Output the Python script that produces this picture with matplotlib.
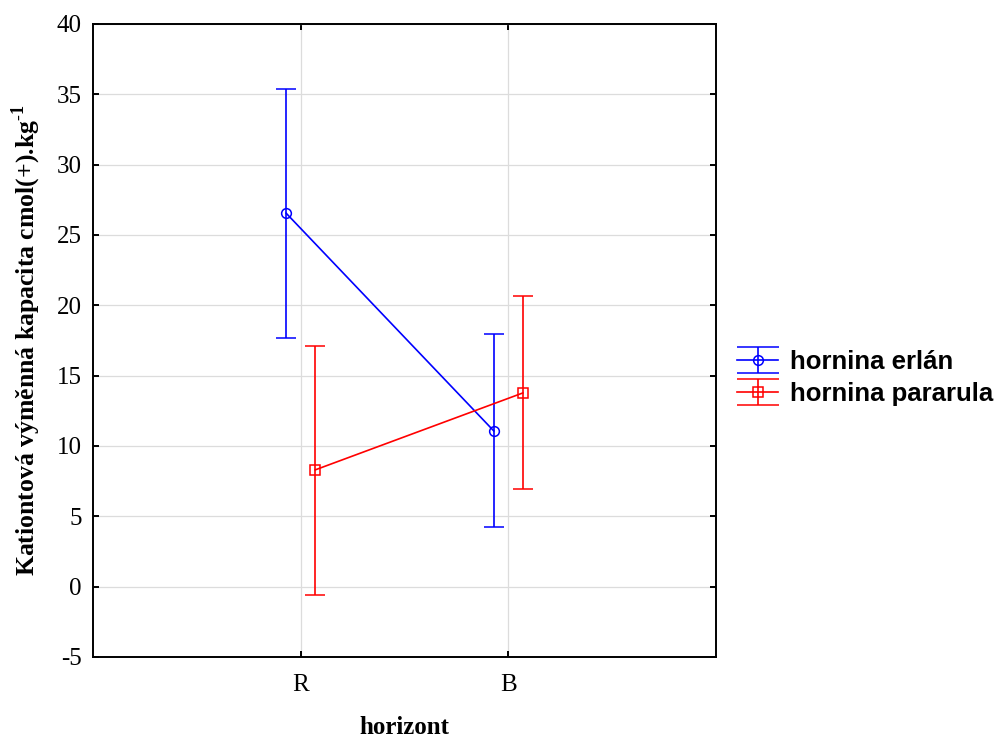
import numpy as np
import matplotlib
matplotlib.use('Agg')
import matplotlib.pyplot as plt
from matplotlib.lines import Line2D

plt.rcParams['axes.unicode_minus'] = False
plt.rcParams['mathtext.fontset'] = 'custom'
plt.rcParams['mathtext.rm'] = 'Liberation Serif'
plt.rcParams['mathtext.bf'] = 'Liberation Serif:bold'

categories = ['R', 'B']
series_names = ['hornina erlán', 'hornina pararula']
erlan_mean = [26.55, 11.07]
erlan_low = [17.68, 4.25]
erlan_high = [35.38, 17.97]
pararula_mean = [8.30, 13.77]
pararula_low = [-0.58, 6.95]
pararula_high = [17.12, 20.67]

fig = plt.figure(figsize=(9.99, 7.38), dpi=100)
ax = fig.add_axes([0.0931, 0.1098, 0.6236, 0.8577])

x = np.arange(len(categories))
series = [
    (erlan_mean, erlan_low, erlan_high, '#0000ff', 'o', -0.07),
    (pararula_mean, pararula_low, pararula_high, '#ff0000', 's', 0.07),
]
for name, (mean, low, high, color, marker, shift) in zip(series_names, series):
    mean = np.array(mean)
    yerr = [mean - np.array(low), np.array(high) - mean]
    ax.errorbar(x + shift, mean, yerr=yerr, color=color, marker=marker,
                markersize=7 if marker == 'o' else 6.5, markerfacecolor='none',
                markeredgewidth=1.1, linewidth=1.2, capsize=7.5, capthick=1.2,
                label=name)

ax.set_xlim(-1, 2)
ax.set_ylim(-5, 40)
ax.set_xticks(x)
ax.set_xticklabels(categories)
ax.set_yticks(np.arange(-5, 41, 5))
ax.grid(True, color='#dcdcdc', linewidth=0.9)
ax.set_axisbelow(True)
for sp in ax.spines.values():
    sp.set_linewidth(1.4)
ax.tick_params(direction='in', length=4, width=1.4, top=True, right=True,
               labelsize=18)
ax.tick_params(axis='y', pad=8)
ax.tick_params(axis='x', pad=12)
for lab in ax.get_xticklabels() + ax.get_yticklabels():
    lab.set_family('Liberation Serif')

ax.set_xlabel('horizont', family='Liberation Serif', fontweight='bold',
              fontsize=18)
ax.xaxis.set_label_coords(0.5, -0.093)
ax.set_ylabel(r'Kationtová výměnná kapacita cmol(+).kg$^{\mathbf{\text{-}1}}$',
              family='Liberation Serif', fontweight='bold', fontsize=18.5)
ax.yaxis.set_label_coords(-0.08, 0.5)

leg = ax.legend(loc='center left', bbox_to_anchor=(0.725, 0.488),
                bbox_transform=fig.transFigure, frameon=False, borderpad=0,
                prop={'family': 'Liberation Sans', 'weight': 'bold', 'size': 18.5},
                handlelength=1.6, handletextpad=0.45, labelspacing=0.3)
for ln in leg.findobj(Line2D):
    if ln.get_marker() == '_':
        ln.set_markersize(30)

fig.savefig('out.png', dpi=100)
